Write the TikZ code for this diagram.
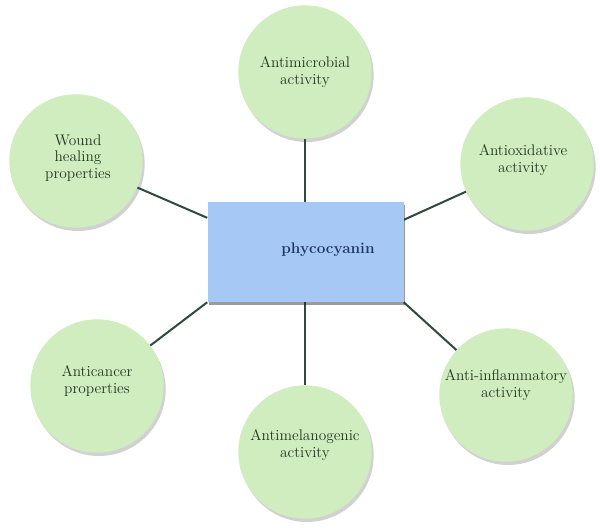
\documentclass[tikz,border=0pt]{standalone}
\usetikzlibrary{shadows,calc}
\definecolor{circfill}{HTML}{CFEDBE}
\definecolor{boxfill}{HTML}{A6C8F5}
\definecolor{linecol}{HTML}{2E4A3C}
\definecolor{txtgreen}{HTML}{1F361F}
\definecolor{txtblue}{HTML}{1F3866}
\tikzset{
  bubble/.style={circle, fill=circfill, minimum size=100pt, inner sep=0pt,
    align=center, text=txtgreen, font=\fontsize{11.5}{12.6}\selectfont,
    drop shadow={shadow xshift=1.5pt, shadow yshift=-2.5pt, opacity=0.18, fill=black}},
  centerbox/.style={rectangle, fill=boxfill, minimum width=147pt, minimum height=75pt,
    inner sep=0pt, drop shadow={shadow xshift=1pt, shadow yshift=-2.5pt, opacity=0.22, fill=black}},
  link/.style={draw=linecol, line width=1.5pt}
}
\begin{document}
\begin{tikzpicture}[x=0.75pt, y=-0.75pt]
\useasboundingbox (0,0) rectangle (600,528);
% connectors first (below nodes)
\path (305.5,252) node[centerbox, opacity=0] (boxpos) {};
\node[bubble] (top) at (305,72) {};
\node[bubble] (wound) at (76,161) {};
\node[bubble] (antiox) at (527,164) {};
\node[bubble] (cancer) at (97,386) {};
\node[bubble] (mel) at (305,452) {};
\node[bubble] (infl) at (506,395) {};
\coordinate (wl) at ($(boxpos.north west)!0.16!(boxpos.south west)$);
\coordinate (ar) at ($(boxpos.north east)!0.18!(boxpos.south east)$);
\draw[link] (top.south) -- (top.south |- boxpos.north);
\draw[link] (mel.north) -- (mel.north |- boxpos.south);
\draw[link] (wl) -- (wound);
\draw[link] (ar) -- (antiox);
\draw[link] (boxpos.south west) -- (cancer);
\draw[link] (boxpos.south east) -- (infl);
\node[centerbox] (box) at (305.5,252) {};
\node[font=\fontsize{11.5}{13}\selectfont\bfseries, text=txtblue] (lbl) at (328,250) {phycocyanin};
\node[align=center, text=txtgreen, font=\fontsize{11.5}{12.6}\selectfont] (t1) at (top) {Antimicrobial\\activity};
\node[align=center, text=txtgreen, font=\fontsize{11.5}{12.6}\selectfont] (t2) at (78,158) {Wound\\healing\\properties};
\node[align=center, text=txtgreen, font=\fontsize{11.5}{12.6}\selectfont] (t3) at (523,160) {Antioxidative\\activity};
\node[align=center, text=txtgreen, font=\fontsize{11.5}{12.6}\selectfont] (t4) at (97,381) {Anticancer\\properties};
\node[align=center, text=txtgreen, font=\fontsize{11.5}{12.6}\selectfont] (t5) at (305,445) {Antimelanogenic\\activity};
\node[align=center, text=txtgreen, font=\fontsize{11.5}{12.6}\selectfont] (t6) at (506,385) {Anti-inflammatory\\activity};
\end{tikzpicture}
\end{document}
